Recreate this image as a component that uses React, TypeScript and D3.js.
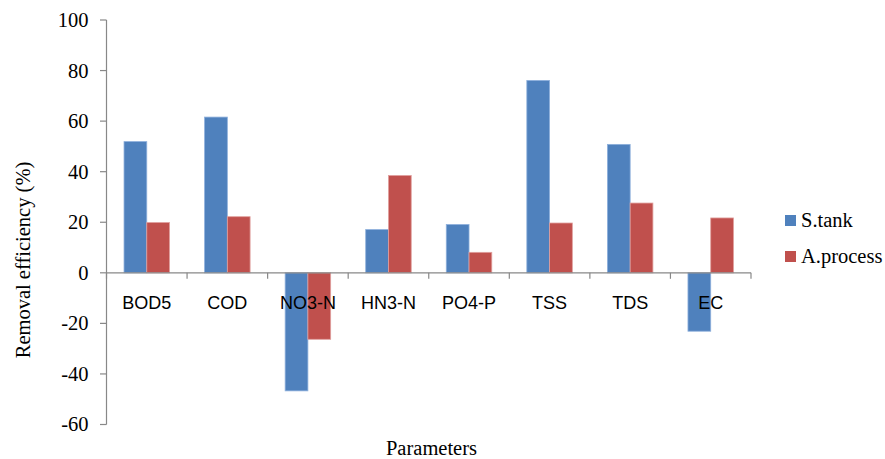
import React from 'react';
import * as d3 from 'd3';

const categories = ['BOD5', 'COD', 'NO3-N', 'HN3-N', 'PO4-P', 'TSS', 'TDS', 'EC'];
const seriesNames = ['S.tank', 'A.process'];
const sTank = [51.9, 61.6, -46.7, 17.1, 19.1, 76.1, 50.8, -23.1];
const aProcess = [19.9, 22.2, -26.3, 38.5, 8.1, 19.7, 27.6, 21.7];
const yTicks = [100, 80, 60, 40, 20, 0, -20, -40, -60];

const colors = ['#4F81BD', '#C0504D'];
const strokes = ['#8EB0DC', '#E0A09E'];

const serif = '"Liberation Serif", "Times New Roman", serif';
const sans = '"Liberation Sans", Arial, sans-serif';

export default function App() {
  const width = 885;
  const height = 459;
  const left = 106.5;
  const right = 751;
  const top = 20;
  const bottom = 424.5;

  const yScale = d3.scaleLinear().domain([-60, 100]).range([bottom, top]);
  const xScale = d3.scaleBand().domain(categories).range([left, right]).padding(0);
  const bw = xScale.bandwidth();
  const groupW = bw * 0.565;
  const inner = d3.scaleBand()
    .domain(seriesNames)
    .range([(bw - groupW) / 2, (bw + groupW) / 2]);

  const series = [sTank, aProcess];
  const y0 = yScale(0);
  const axisColor = '#888888';

  return (
    <div style={{ position: 'absolute', left: 0, top: 0 }}>
      <svg width={width} height={height} style={{ display: 'block', background: '#fff' }}>
        {/* bars */}
        {series.map((vals, si) => (
          <g key={seriesNames[si]}>
            {vals.map((v, i) => {
              const x = (xScale(categories[i]) as number) + (inner(seriesNames[si]) as number);
              const yv = yScale(v);
              return (
                <rect
                  key={categories[i]}
                  x={x}
                  y={Math.min(yv, y0)}
                  width={inner.bandwidth()}
                  height={Math.abs(yv - y0)}
                  fill={colors[si]}
                  stroke={strokes[si]}
                  strokeWidth={0.8}
                />
              );
            })}
          </g>
        ))}

        {/* y axis */}
        <line x1={left} x2={left} y1={top} y2={bottom} stroke={axisColor} strokeWidth={1.2} />
        {yTicks.map((t) => (
          <g key={t} transform={`translate(0,${yScale(t)})`}>
            <line x1={left - 6.5} x2={left} stroke={axisColor} strokeWidth={1.2} />
            <text
              x={88.5}
              dy="0.34em"
              textAnchor="end"
              fontFamily={serif}
              fontSize={20.5}
              fill="#000"
            >
              {t}
            </text>
          </g>
        ))}

        {/* x axis at zero */}
        <line x1={left} x2={right} y1={y0} y2={y0} stroke={axisColor} strokeWidth={1.2} />
        {[...categories.map((c) => xScale(c) as number), right].map((x) => (
          <line key={x} x1={x} x2={x} y1={y0} y2={y0 + 6} stroke={axisColor} strokeWidth={1.2} />
        ))}
        {categories.map((c) => (
          <text
            key={c}
            x={(xScale(c) as number) + bw / 2}
            y={308.5}
            textAnchor="middle"
            fontFamily={sans}
            fontSize={18}
            fill="#000"
          >
            {c}
          </text>
        ))}

        {/* axis titles */}
        <text
          transform="translate(30,260) rotate(-90)"
          textAnchor="middle"
          fontFamily={serif}
          fontSize={20.5}
          fill="#000"
        >
          Removal efficiency (%)
        </text>
        <text x={431.5} y={455} textAnchor="middle" fontFamily={serif} fontSize={20.5} fill="#000">
          Parameters
        </text>

        {/* legend */}
        {seriesNames.map((s, i) => (
          <g key={s} transform={`translate(785,${215 + i * 36})`}>
            <rect width={11} height={11} fill={colors[i]} />
            <text x={16} y={12} fontFamily={serif} fontSize={20.5} fill="#000">
              {s}
            </text>
          </g>
        ))}
      </svg>
    </div>
  );
}
